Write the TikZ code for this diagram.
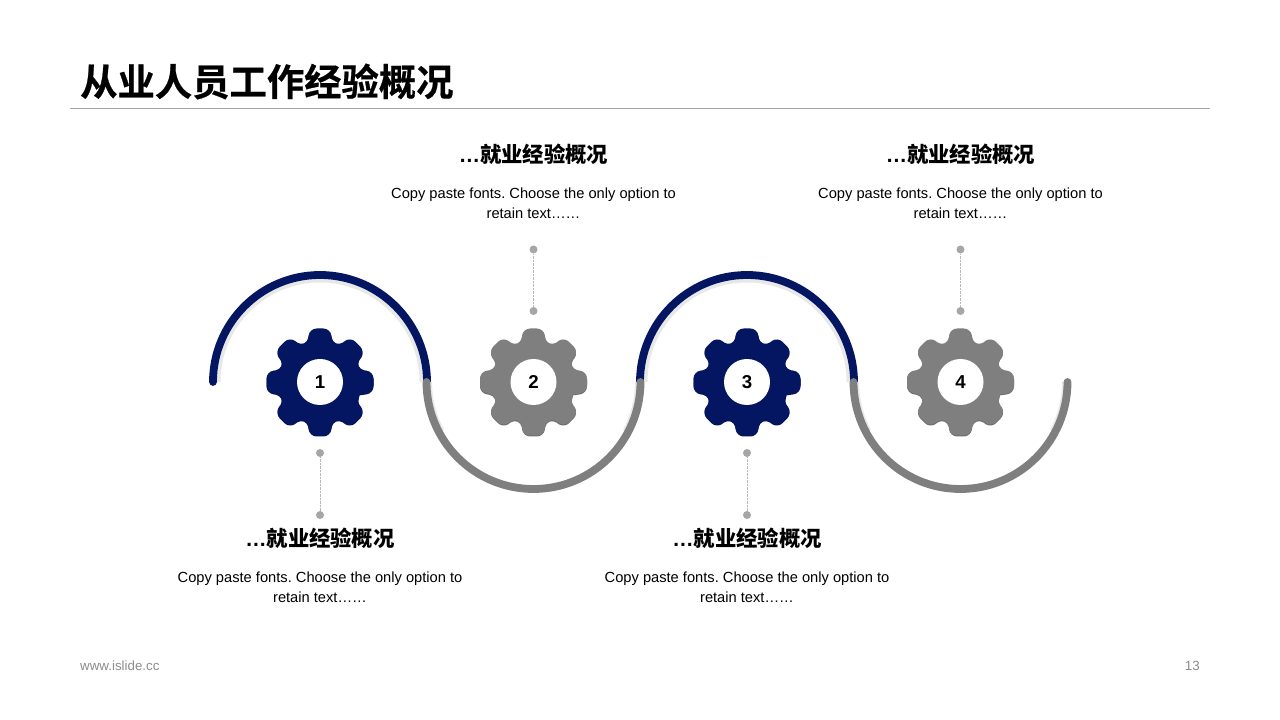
\documentclass[tikz,border=0pt]{standalone}
\usepackage{fontspec}
\setmainfont{Liberation Sans}
\newfontfamily\cjk{Noto Sans CJK SC Bold}[FakeBold=.6]
\newfontfamily\cjkhead{Noto Sans CJK SC Bold}
\definecolor{navyc}{HTML}{041661}
\definecolor{grayc}{HTML}{7F7F7F}
\definecolor{dotc}{HTML}{A6A6A6}
\definecolor{footc}{HTML}{8C8C8C}
\tikzset{
	titlenode/.style={anchor=west,inner sep=0pt,font=\cjk\fontsize{37.33}{40}\selectfont},
	headnode/.style={inner sep=0pt,font=\bfseries\fontsize{21.33}{24}\selectfont},
	bodynode/.style={inner sep=0pt,align=center,font=\frenchspacing\fontsize{14.67}{20.5}\selectfont},
	footnode/.style={inner sep=0pt,text=footc,font=\fontsize{13.33}{14}\selectfont},
	numnode/.style={circle,fill=white,minimum size=46pt,inner sep=0pt,font=\bfseries\fontsize{18.67}{20}\selectfont},
	dotnode/.style={circle,fill=dotc,minimum size=8pt,inner sep=0pt},
	wave/.style={line width=7.8pt,line cap=round},
	waveshade/.style={line width=5pt,color=black!9,line cap=butt},
	leader/.style={draw=dotc!80,line width=.7pt,dash pattern=on .7pt off .7pt},
}
\def\gearpath{(-17:42) \foreach \a in {0,45,...,315} {[rounded corners=7pt] -- (\a-11:54.5) -- (\a+11:54.5) [rounded corners=4pt] -- (\a+17:42) -- (\a+28:42)} -- cycle}
\begin{document}
\begin{tikzpicture}[x=1pt,y=1pt,line join=round]
	\useasboundingbox[fill=white] (0,0) rectangle (1280,720);
	% title
	\node[titlenode] (title) at (80,638.5) {从业人员工作经验概况};
	\coordinate (ruleL) at (70,611.5);
	\coordinate (ruleR) at (1210,611.5);
	\draw[dotc,line width=1pt] (ruleL)--(ruleR);
	% wave
	\foreach \x in {320,747} {
		\draw[waveshade] (\x-102,338) arc (180:0:102pt);
		\draw[wave,navyc,line cap=butt] (\x+107,338) arc (0:90:107pt);
		\draw[wave,navyc] (\x,445) arc (90:180:107pt);
	}
	\foreach \x in {533.5,960.5} {
		\draw[waveshade,line width=3pt] (\x-103,338) arc (180:208:103pt);
		\draw[waveshade,line width=3pt] (\x+103,338) arc (0:-28:103pt);
		\draw[wave,grayc] (\x-107,338) arc (180:360:107pt);
	}
	% gears
	\foreach \x/\y/\col/\n in {320/338/navyc/1,533.5/338/grayc/2,747/338/navyc/3,960.5/338/grayc/4} {
		\begin{scope}[shift={(\x,\y)}]
			\fill[\col!85!black,yshift=-1pt] \gearpath;
			\fill[\col] \gearpath;
			\node[numnode] (gear\n) at (0,0) {\n};
		\end{scope}
	}
	% labels below
	\foreach \x/\n in {320/1,747/3} {
		\node[dotnode] (dotA\n) at (\x,267) {};
		\node[dotnode] (dotB\n) at (\x,205) {};
		\draw[leader] (dotA\n)--(dotB\n);
		\node[headnode] (head\n) at (\x,182) {…{\cjkhead 就业经验概况}};
		\node[bodynode] (body\n) at (\x,132.5) {Copy paste fonts. Choose the only option to\\retain text……};
	}
	% labels above
	\foreach \x/\n in {533.5/2,960.5/4} {
		\node[dotnode] (dotA\n) at (\x,409) {};
		\node[dotnode] (dotB\n) at (\x,470.5) {};
		\draw[leader] (dotA\n)--(dotB\n);
		\node[headnode] (head\n) at (\x,566) {…{\cjkhead 就业经验概况}};
		\node[bodynode] (body\n) at (\x,516.5) {Copy paste fonts. Choose the only option to\\retain text……};
	}
	% footer
	\node[footnode,anchor=west] (site) at (80,54) {www.islide.cc};
	\node[footnode,anchor=east] (page) at (1200,54) {13};
\end{tikzpicture}
\end{document}
